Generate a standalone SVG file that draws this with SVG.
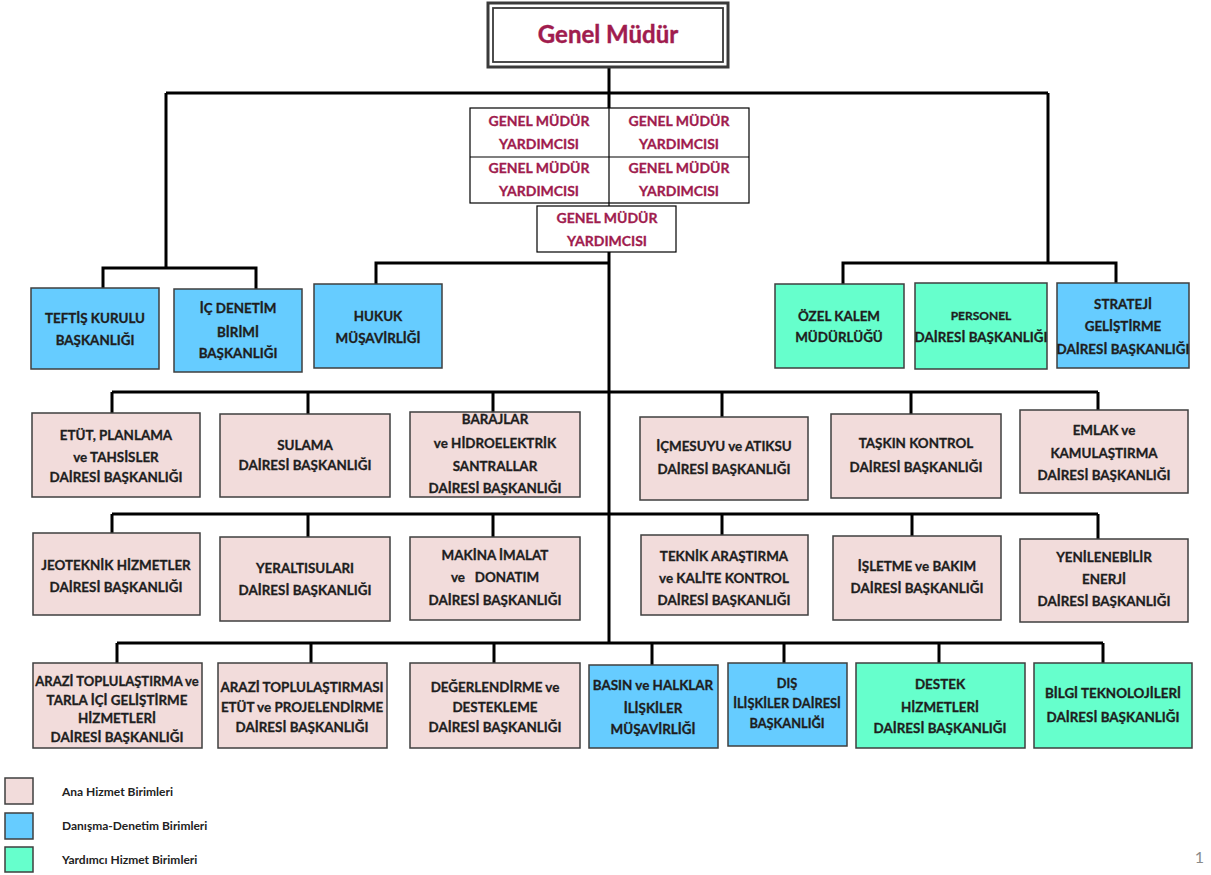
<svg xmlns="http://www.w3.org/2000/svg" width="1211" height="875" viewBox="0 0 1211 875">
<style>
.bx{stroke:#3f3f3f;stroke-width:1.5}
.pink{fill:#F2DCDB}.blue{fill:#66CCFF}.green{fill:#66FFCC}
.t{font-family:Lato,'Liberation Sans',sans-serif;font-weight:700;font-size:13.4px;fill:#1e1e1e;stroke:#1e1e1e;stroke-width:0.3;text-anchor:middle}
.s{font-size:12px}
.r{fill:#A01C4E;stroke:#A01C4E;font-size:14px}
.c{stroke:#000;stroke-width:3;fill:none}
.thin{stroke:#000;stroke-width:1.2;fill:none}
.lg{font-family:Lato,'Liberation Sans',sans-serif;font-weight:700;font-size:12px;fill:#222}
</style>
<rect width="1211" height="875" fill="#fff"/>
<g id="connectors">
<path class="c" d="M609 68V108M609 252V643"/>
<path class="c" d="M166 93H1048M166 93V268M103 288V268H256V289M609 263H376V284M1048 93V263M843 284V263H1116V284"/>
<path class="c" d="M112 392H1098M112 392V413M308 392V414M493 392V412M722 392V417M911 392V414M1098 392V410"/>
<path class="c" d="M112 514H1098M112 514V533M308 514V537M493 514V537M722 514V535M912 514V536M1098 514V539"/>
<path class="c" d="M117 643H1103M117 643V663M311 643V663M494 643V663M652 643V665M784 643V663M939 643V663M1103 643V663"/>
</g>
<g id="genel-mudur">
<rect x="488" y="3" width="240" height="64" fill="#fff" stroke="#3a3a3a" stroke-width="3"/>
<rect x="493" y="8" width="230" height="54" fill="none" stroke="#3a3a3a" stroke-width="1.8"/>
<text class="t" x="608" y="43" style="font-size:24px;fill:#A01C4E;stroke:#A01C4E;stroke-width:0.4">Genel Müdür</text>
</g>
<g id="gmy">
<rect x="470" y="108" width="279" height="95" fill="#fff" class="thin"/>
<path class="thin" d="M470 157H749M609 108V206"/>
<text class="t r" x="539" y="126">GENEL MÜDÜR</text><text class="t r" x="539" y="149">YARDIMCISI</text>
<text class="t r" x="679" y="126">GENEL MÜDÜR</text><text class="t r" x="679" y="149">YARDIMCISI</text>
<text class="t r" x="539" y="173">GENEL MÜDÜR</text><text class="t r" x="539" y="196">YARDIMCISI</text>
<text class="t r" x="679" y="173">GENEL MÜDÜR</text><text class="t r" x="679" y="196">YARDIMCISI</text>
</g>
<g id="gmy5">
<rect x="537" y="206" width="139" height="46" fill="#fff" class="thin"/>
<text class="t r" x="607" y="223">GENEL MÜDÜR</text><text class="t r" x="607" y="246">YARDIMCISI</text>
</g>
<g id="teftis"><rect class="bx blue" x="31" y="288" width="128" height="81"/>
<text class="t" x="95" y="322.5">TEFTİŞ KURULU</text><text class="t" x="95" y="344.5">BAŞKANLIĞI</text></g>
<g id="ic-denetim"><rect class="bx blue" x="174" y="289" width="128" height="83"/>
<text class="t" x="238" y="312.5">İÇ DENETİM</text><text class="t" x="238" y="336.5">BİRİMİ</text><text class="t" x="238" y="357.5">BAŞKANLIĞI</text></g>
<g id="hukuk"><rect class="bx blue" x="314" y="284" width="128" height="84"/>
<text class="t" x="378" y="320.5">HUKUK</text><text class="t" x="378" y="342.5">MÜŞAVİRLİĞİ</text></g>
<g id="ozel-kalem"><rect class="bx green" x="775" y="284" width="129" height="84"/>
<text class="t" x="839" y="320.5">ÖZEL KALEM</text><text class="t" x="839" y="341.5">MÜDÜRLÜĞÜ</text></g>
<g id="personel"><rect class="bx green" x="915" y="283" width="132" height="86"/>
<text class="t s" x="981" y="320">PERSONEL</text><text class="t" x="981" y="341.5">DAİRESİ BAŞKANLIĞI</text></g>
<g id="strateji"><rect class="bx blue" x="1057" y="283" width="132" height="85"/>
<text class="t" x="1123" y="308.5">STRATEJİ</text><text class="t" x="1123" y="330.5">GELİŞTİRME</text><text class="t" x="1123" y="353.5">DAİRESİ BAŞKANLIĞI</text></g>

<g id="etut"><rect class="bx pink" x="32" y="413" width="168" height="84"/>
<text class="t" x="116" y="439.5">ETÜT, PLANLAMA</text><text class="t" x="116" y="461.5">ve TAHSİSLER</text><text class="t" x="116" y="481.5">DAİRESİ BAŞKANLIĞI</text></g>
<g id="sulama"><rect class="bx pink" x="220" y="414" width="170" height="83"/>
<text class="t" x="305" y="449.5">SULAMA</text><text class="t" x="305" y="469.5">DAİRESİ BAŞKANLIĞI</text></g>
<g id="barajlar"><rect class="bx pink" x="410" y="412" width="170" height="85"/>
<text class="t" x="495" y="423.5">BARAJLAR</text><text class="t" x="495" y="447.5">ve HİDROELEKTRİK</text><text class="t" x="495" y="470.5">SANTRALLAR</text><text class="t" x="495" y="492.5">DAİRESİ BAŞKANLIĞI</text></g>
<g id="icmesuyu"><rect class="bx pink" x="640" y="417" width="168" height="83"/>
<text class="t" x="724" y="450.5">İÇMESUYU ve ATIKSU</text><text class="t" x="724" y="473.5">DAİRESİ BAŞKANLIĞI</text></g>
<g id="taskin"><rect class="bx pink" x="831" y="414" width="170" height="84"/>
<text class="t" x="916" y="447.5">TAŞKIN KONTROL</text><text class="t" x="916" y="471.5">DAİRESİ BAŞKANLIĞI</text></g>
<g id="emlak"><rect class="bx pink" x="1020" y="410" width="168" height="83"/>
<text class="t" x="1104" y="434.5">EMLAK ve</text><text class="t" x="1104" y="457.5">KAMULAŞTIRMA</text><text class="t" x="1104" y="479.5">DAİRESİ BAŞKANLIĞI</text></g>

<g id="jeoteknik"><rect class="bx pink" x="33" y="533" width="167" height="82"/>
<text class="t" x="116" y="569.5">JEOTEKNİK HİZMETLER</text><text class="t" x="116" y="591.5">DAİRESİ BAŞKANLIĞI</text></g>
<g id="yeralti"><rect class="bx pink" x="220" y="537" width="170" height="84"/>
<text class="t" x="305" y="572.5">YERALTISULARI</text><text class="t" x="305" y="594.5">DAİRESİ BAŞKANLIĞI</text></g>
<g id="makina"><rect class="bx pink" x="410" y="537" width="170" height="83"/>
<text class="t" x="495" y="559.5">MAKİNA İMALAT</text><text class="t" x="495" y="581.5" xml:space="preserve">ve   DONATIM</text><text class="t" x="495" y="604.5">DAİRESİ BAŞKANLIĞI</text></g>
<g id="teknik"><rect class="bx pink" x="641" y="535" width="167" height="80"/>
<text class="t" x="724" y="560.5">TEKNİK ARAŞTIRMA</text><text class="t" x="724" y="582.5">ve KALİTE KONTROL</text><text class="t" x="724" y="604.5">DAİRESİ BAŞKANLIĞI</text></g>
<g id="isletme"><rect class="bx pink" x="833" y="536" width="168" height="84"/>
<text class="t" x="917" y="570.5">İŞLETME ve BAKIM</text><text class="t" x="917" y="592.5">DAİRESİ BAŞKANLIĞI</text></g>
<g id="yenilenebilir"><rect class="bx pink" x="1020" y="539" width="168" height="83"/>
<text class="t" x="1104" y="561.5">YENİLENEBİLİR</text><text class="t" x="1104" y="583.5">ENERJİ</text><text class="t" x="1104" y="605.5">DAİRESİ BAŞKANLIĞI</text></g>

<g id="arazi1"><rect class="bx pink" x="33" y="663" width="169" height="85"/>
<text class="t" x="117" y="685.5" style="font-size:13px">ARAZİ TOPLULAŞTIRMA ve</text><text class="t" x="117" y="704.5">TARLA İÇİ GELİŞTİRME</text><text class="t" x="117" y="722.5">HİZMETLERİ</text><text class="t" x="117" y="741.5">DAİRESİ BAŞKANLIĞI</text></g>
<g id="arazi2"><rect class="bx pink" x="218" y="663" width="169" height="85"/>
<text class="t" x="302" y="691.5">ARAZİ TOPLULAŞTIRMASI</text><text class="t" x="302" y="711.5">ETÜT ve PROJELENDİRME</text><text class="t" x="302" y="731.5">DAİRESİ BAŞKANLIĞI</text></g>
<g id="degerlendirme"><rect class="bx pink" x="410" y="663" width="170" height="85"/>
<text class="t" x="495" y="691.5">DEĞERLENDİRME ve</text><text class="t" x="495" y="711.5">DESTEKLEME</text><text class="t" x="495" y="731.5">DAİRESİ BAŞKANLIĞI</text></g>
<g id="basin"><rect class="bx blue" x="589" y="665" width="129" height="83"/>
<text class="t" x="653" y="689.5">BASIN ve HALKLAR</text><text class="t" x="653" y="712.5">İLİŞKİLER</text><text class="t" x="653" y="733.5">MÜŞAVİRLİĞİ</text></g>
<g id="dis"><rect class="bx blue" x="728" y="663" width="119" height="83"/>
<text class="t" x="787" y="687.5" style="font-size:12.8px">DIŞ</text><text class="t" x="787" y="707.5" style="font-size:12.8px">İLİŞKİLER DAİRESİ</text><text class="t" x="787" y="727.5" style="font-size:12.8px">BAŞKANLIĞI</text></g>
<g id="destek"><rect class="bx green" x="856" y="663" width="169" height="85"/>
<text class="t" x="940" y="688.5">DESTEK</text><text class="t" x="940" y="711.5">HİZMETLERİ</text><text class="t" x="940" y="732.5">DAİRESİ BAŞKANLIĞI</text></g>
<g id="bilgi"><rect class="bx green" x="1034" y="663" width="158" height="85"/>
<text class="t" x="1113" y="697.5">BİLGİ TEKNOLOJİLERİ</text><text class="t" x="1113" y="721.5">DAİRESİ BAŞKANLIĞI</text></g>

<g id="legend">
<rect class="bx pink" x="5" y="778" width="28" height="26"/>
<rect class="bx blue" x="5" y="813" width="28" height="26"/>
<rect class="bx green" x="5" y="847" width="28" height="25"/>
<text class="lg" x="62" y="796">Ana Hizmet Birimleri</text>
<text class="lg" x="62" y="830">Danışma-Denetim Birimleri</text>
<text class="lg" x="62" y="864">Yardımcı Hizmet Birimleri</text>
</g>
<text x="1204" y="863" style="font-family:Lato,'Liberation Sans',sans-serif;font-size:16px;fill:#8a8a8a;text-anchor:end">1</text>
</svg>
